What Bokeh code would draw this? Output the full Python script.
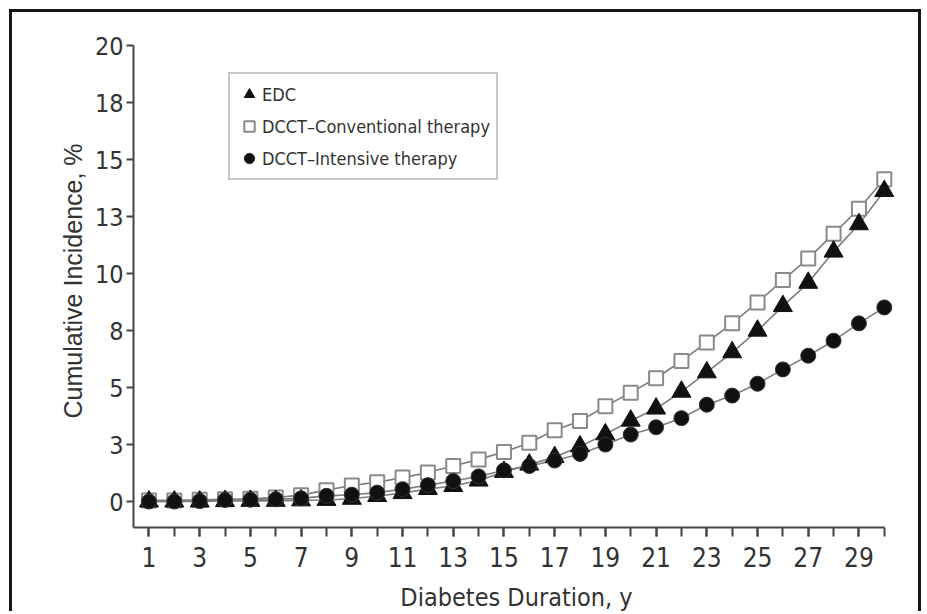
from bokeh.plotting import figure
from bokeh.models import FixedTicker, Legend, LegendItem, Range1d, ColumnDataSource
from bokeh.embed import file_html
from bokeh.resources import INLINE

# ---- data ----
years = list(range(1, 31))
edc = [0.0, 0.0, 0.0, 0.02, 0.03, 0.03, 0.05, 0.07, 0.12, 0.24,
       0.37, 0.55, 0.68, 0.92, 1.30, 1.62, 1.95, 2.42, 2.95, 3.55,
       4.08, 4.82, 5.67, 6.55, 7.50, 8.58, 9.60, 10.97, 12.17, 13.63]
conv = [0.05, 0.05, 0.08, 0.10, 0.12, 0.18, 0.28, 0.50, 0.70, 0.85,
        1.05, 1.27, 1.56, 1.85, 2.17, 2.58, 3.13, 3.53, 4.18, 4.78,
        5.41, 6.17, 6.98, 7.82, 8.74, 9.72, 10.67, 11.75, 12.85, 14.15]
intens = [0.0, 0.0, 0.02, 0.07, 0.08, 0.10, 0.14, 0.25, 0.30, 0.39,
          0.54, 0.72, 0.90, 1.10, 1.37, 1.56, 1.80, 2.09, 2.50, 2.94,
          3.26, 3.66, 4.25, 4.65, 5.17, 5.80, 6.40, 7.06, 7.82, 8.52]
series_names = ["EDC", "DCCT\u2013Conventional therapy", "DCCT\u2013Intensive therapy"]
y_ticks = [0, 2.5, 5, 7.5, 10, 12.5, 15, 17.5, 20]
y_tick_labels = ["0", "3", "5", "8", "10", "13", "15", "18", "20"]
x_major = list(range(1, 30, 2))
x_minor = list(range(1, 31))
x_title = "Diabetes Duration, y"
y_title = "Cumulative Incidence, %"

src = ColumnDataSource(dict(x=years, edc=edc, conv=conv, intens=intens))

NARROW = "DejaVu Sans Condensed, sans-serif"
REG = "Liberation Sans, Arial, sans-serif"
TXT = "#333333"
AX = "#444444"

p = figure(width=912, height=602,
           x_range=Range1d(0.39, 30.6), y_range=Range1d(-1.14, 20.5),
           output_backend="svg", toolbar_location=None,
           min_border_left=121, min_border_right=25,
           min_border_top=22, min_border_bottom=87,
           margin=(9, 0, 0, 9))
p.styles = {"border-top": "3px solid #161616",
            "border-left": "3px solid #161616",
            "border-right": "3px solid #161616"}
p.outline_line_color = None
p.grid.visible = False
p.background_fill_color = "white"
p.border_fill_color = "white"

# series lines
LC = "#7d7d7d"
p.line("x", "conv", source=src, line_color=LC, line_width=1.6)
p.line("x", "edc", source=src, line_color=LC, line_width=1.6)
p.line("x", "intens", source=src, line_color=LC, line_width=1.6)

r_conv = p.scatter("x", "conv", source=src, marker="square", size=14,
                   fill_color="white", line_color="#8a8a8a", line_width=2)
r_edc = p.scatter("x", "edc", source=src, marker="triangle", size=19,
                  fill_color="#111111", line_color="#111111", line_width=1)
r_int = p.scatter("x", "intens", source=src, marker="circle", size=15,
                  fill_color="#111111", line_color="#333333", line_width=1)

# axes
xa = p.xaxis[0]
xa.ticker = FixedTicker(ticks=x_major, minor_ticks=x_minor)
xa.bounds = (0.39, 30)
xa.axis_label = x_title
xa.axis_line_color = AX
xa.axis_line_width = 2
xa.major_tick_line_color = AX
xa.minor_tick_line_color = AX
xa.major_tick_line_width = 2
xa.minor_tick_line_width = 2
xa.major_tick_out = 9
xa.major_tick_in = 0
xa.minor_tick_out = 9
xa.minor_tick_in = 0
xa.major_label_standoff = 10
xa.major_label_text_font = NARROW
xa.major_label_text_font_size = "26px"
xa.major_label_text_color = TXT
xa.axis_label_text_font = NARROW
xa.axis_label_text_font_size = "25px"
xa.axis_label_text_font_style = "normal"
xa.axis_label_text_color = TXT
xa.axis_label_standoff = 13

ya = p.yaxis[0]
ya.ticker = FixedTicker(ticks=y_ticks, minor_ticks=[])
ya.major_label_overrides = {t: l for t, l in zip(y_ticks, y_tick_labels)}
ya.bounds = (-1.14, 20)
ya.axis_label = y_title
ya.axis_line_color = AX
ya.axis_line_width = 2
ya.major_tick_line_color = AX
ya.major_tick_line_width = 2
ya.major_tick_out = 7
ya.major_tick_in = 0
ya.minor_tick_line_color = None
ya.major_label_standoff = 3
ya.major_label_text_font = NARROW
ya.major_label_text_font_size = "25px"
ya.major_label_text_color = TXT
ya.axis_label_text_font = REG
ya.axis_label_text_font_size = "25px"
ya.axis_label_text_font_style = "normal"
ya.axis_label_text_color = TXT
ya.axis_label_standoff = 5

legend = Legend(items=[LegendItem(label=series_names[0], renderers=[r_edc]),
                       LegendItem(label=series_names[1], renderers=[r_conv]),
                       LegendItem(label=series_names[2], renderers=[r_int])],
                location=(95, 347))
legend.label_text_font = NARROW
legend.label_text_font_size = "18px"
legend.label_text_color = TXT
legend.glyph_width = 26
legend.glyph_height = 28
legend.label_height = 28
legend.label_standoff = 0
legend.spacing = 4
legend.padding = 6
legend.margin = 0
legend.border_line_color = "#8f8f8f"
legend.border_line_width = 2
legend.background_fill_color = "white"
legend.background_fill_alpha = 1.0
p.add_layout(legend, "center")

open("out.html", "w").write(file_html(p, INLINE))
